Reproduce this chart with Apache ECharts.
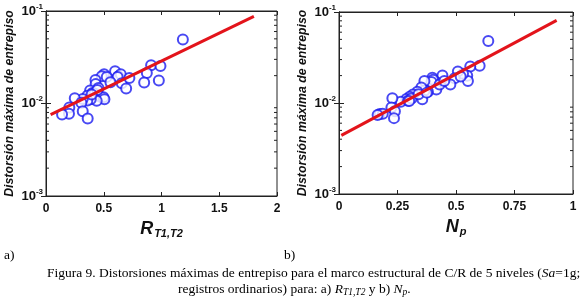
<!DOCTYPE html>
<html>
<head>
<meta charset="utf-8">
<script src="https://cdn.jsdelivr.net/npm/echarts@6/dist/echarts.min.js"></script>
<style>
  html, body { margin: 0; padding: 0; background: #fff; }
  #main { width: 580px; height: 299px; }
</style>
</head>
<body>
<div id="main"></div>
<script>
// a) R_T1,T2 vs max drift
var ratioA = [1.185, 0.910, 0.991, 0.873, 0.850, 0.977, 0.598, 0.627, 0.647, 0.620, 0.503, 0.483, 0.526, 0.558, 0.656, 0.722, 0.694, 0.428, 0.430, 0.454, 0.382, 0.402, 0.358, 0.419, 0.471, 0.497, 0.506, 0.439, 0.387, 0.358, 0.318, 0.249, 0.306, 0.318, 0.361, 0.202, 0.199, 0.139, 0.445, 0.395];
var driftA = [0.0491, 0.0259, 0.0255, 0.0214, 0.0169, 0.0177, 0.0223, 0.0197, 0.0207, 0.0193, 0.0207, 0.0197, 0.0194, 0.0170, 0.0166, 0.0189, 0.0145, 0.0179, 0.0162, 0.0147, 0.0138, 0.0130, 0.0121, 0.0128, 0.0118, 0.0117, 0.0111, 0.0107, 0.0111, 0.0108, 0.0112, 0.0114, 0.0102, 0.00826, 0.00689, 0.00906, 0.00775, 0.00761, 0.0140, 0.0125];
var fitAx = [0.04, 1.8];
var fitAy = [0.0076, 0.0876];

// b) Np vs max drift
var npB = [0.638, 0.601, 0.561, 0.548, 0.551, 0.530, 0.508, 0.494, 0.476, 0.442, 0.417, 0.399, 0.402, 0.395, 0.365, 0.416, 0.380, 0.366, 0.352, 0.335, 0.316, 0.356, 0.302, 0.288, 0.264, 0.295, 0.228, 0.224, 0.239, 0.235, 0.174, 0.187, 0.165, 0.310, 0.340, 0.430, 0.375, 0.450, 0.520, 0.300];
var driftB = [0.0481, 0.0256, 0.0252, 0.0199, 0.0174, 0.0209, 0.0222, 0.0187, 0.0160, 0.0200, 0.0169, 0.0190, 0.0180, 0.0170, 0.0175, 0.0141, 0.0133, 0.0137, 0.0148, 0.0133, 0.0124, 0.0110, 0.0117, 0.0111, 0.0103, 0.0106, 0.0113, 0.00893, 0.00813, 0.00682, 0.00755, 0.00760, 0.00740, 0.0112, 0.0125, 0.0160, 0.0130, 0.0175, 0.0195, 0.0105];
var fitBx = [0.01, 0.93];
var fitBy = [0.0044, 0.081];

var minorVals = [];
[0.001, 0.01].forEach(function (d) {
  for (var k = 2; k <= 9; k++) minorVals.push(+(d * k).toPrecision(3));
});

function zip(xs, ys) {
  return xs.map(function (x, i) { return [x, ys[i]]; });
}

var tickFont = { color: '#111', fontFamily: 'Liberation Sans, Arial', fontWeight: 'bold', fontSize: 12 };
var ylabelRich = {
  b: { fontFamily: 'Liberation Sans, Arial', fontWeight: 'bold', fontSize: 13, color: '#111' },
  s: { fontFamily: 'Liberation Sans, Arial', fontWeight: 'bold', fontSize: 8, color: '#111', padding: [0, 0, 9, 0] }
};
var nameRich = {
  m: { fontFamily: 'Liberation Sans, Arial', fontWeight: 'bold', fontStyle: 'italic', fontSize: 18, color: '#111' },
  sub: { fontFamily: 'Liberation Sans, Arial', fontWeight: 'bold', fontStyle: 'italic', fontSize: 11, color: '#111', padding: [10, 0, 0, 1] }
};

function xAxes(gridIndex, max, interval, name) {
  return [
    {
      gridIndex: gridIndex, type: 'value', min: 0, max: max, interval: interval,
      axisLine: { lineStyle: { color: '#222', width: 1 } },
      axisTick: { inside: true, length: 4, lineStyle: { color: '#222' } },
      axisLabel: Object.assign({ margin: 7 }, tickFont),
      splitLine: { show: false },
      name: name, nameLocation: 'middle', nameGap: 18,
      nameTextStyle: { rich: nameRich }
    },
    {
      gridIndex: gridIndex, type: 'value', position: 'top', min: 0, max: max, interval: interval,
      axisLine: { lineStyle: { color: '#222', width: 1 } },
      axisTick: { inside: true, length: 4, lineStyle: { color: '#222' } },
      axisLabel: { show: false }, splitLine: { show: false }
    }
  ];
}

function yAxes(gridIndex) {
  return [
    {
      gridIndex: gridIndex, type: 'log', logBase: 10, min: 0.001, max: 0.1,
      axisLine: { lineStyle: { color: '#222', width: 1 } },
      axisTick: { inside: true, length: 5, lineStyle: { color: '#222' } },
      axisLabel: {
        margin: 3,
        formatter: function (v) {
          return '{b|10}{s|' + Math.round(Math.log10(v)) + '}';
        },
        rich: ylabelRich
      },
      splitLine: { show: false },
      name: 'Distorsión máxima de entrepiso', nameLocation: 'middle', nameGap: 30,
      nameTextStyle: { fontFamily: 'Liberation Sans, Arial', fontWeight: 'bold', fontStyle: 'italic', fontSize: 12.3, color: '#111' }
    },
    {
      gridIndex: gridIndex, type: 'log', logBase: 10, min: 0.001, max: 0.1, position: 'right',
      axisLine: { lineStyle: { color: '#222', width: 1 } },
      axisTick: { inside: true, length: 5, lineStyle: { color: '#222' } },
      axisLabel: { show: false }, splitLine: { show: false }
    }
  ];
}

function minorTicks(xi, yi, xmin, xmax) {
  return {
    type: 'custom', xAxisIndex: xi, yAxisIndex: yi, silent: true, clip: false,
    data: minorVals.map(function (v) { return [xmin, v]; }),
    renderItem: function (params, api) {
      var v = api.value(1);
      var p = api.coord([xmin, v]);
      var q = api.coord([xmax, v]);
      var st = { stroke: '#222', lineWidth: 1 };
      return {
        type: 'group',
        children: [
          { type: 'line', shape: { x1: p[0], y1: p[1], x2: p[0] + 3, y2: p[1] }, style: st },
          { type: 'line', shape: { x1: q[0], y1: q[1], x2: q[0] - 3, y2: q[1] }, style: st }
        ]
      };
    }
  };
}

var blue = '#1c1cf0';
var red = '#e3141b';

var capN = { fontFamily: 'Liberation Serif, Times New Roman', fontSize: 13.5, color: '#111' };
var capI = Object.assign({}, capN, { fontStyle: 'italic' });
var capSub = Object.assign({}, capN, { fontStyle: 'italic', fontSize: 9.5, padding: [6, 0, 0, 0] });

var option = {
  animation: false,
  backgroundColor: '#fff',
  grid: [
    { left: 46, top: 11, width: 231, height: 185, show: true, borderColor: '#222', borderWidth: 1 },
    { left: 339, top: 12, width: 234, height: 182, show: true, borderColor: '#222', borderWidth: 1 }
  ],
  xAxis: xAxes(0, 2, 0.5, '{m|R}{sub|T1,T2}').concat(xAxes(1, 1, 0.25, '{m|N}{sub|p}')),
  yAxis: yAxes(0).concat(yAxes(1)),
  series: [
    minorTicks(0, 0, 0, 2),
    minorTicks(2, 2, 0, 1),
    {
      type: 'scatter', xAxisIndex: 0, yAxisIndex: 0,
      symbol: 'emptyCircle', symbolSize: 10,
      itemStyle: { color: blue, borderColor: blue, borderWidth: 1.1 },
      data: zip(ratioA, driftA)
    },
    {
      type: 'line', xAxisIndex: 0, yAxisIndex: 0, symbol: 'none',
      lineStyle: { color: red, width: 3 },
      data: zip(fitAx, fitAy), z: 3
    },
    {
      type: 'scatter', xAxisIndex: 2, yAxisIndex: 2,
      symbol: 'emptyCircle', symbolSize: 10,
      itemStyle: { color: blue, borderColor: blue, borderWidth: 1.1 },
      data: zip(npB, driftB)
    },
    {
      type: 'line', xAxisIndex: 2, yAxisIndex: 2, symbol: 'none',
      lineStyle: { color: red, width: 3 },
      data: zip(fitBx, fitBy), z: 3
    }
  ],
  graphic: [
    { type: 'text', left: 4, top: 248, style: Object.assign({ text: 'a)' }, capN) },
    { type: 'text', left: 284, top: 248, style: Object.assign({ text: 'b)' }, capN) },
    {
      type: 'text', left: 47, top: 266,
      style: {
        text: '{n|Figura 9. Distorsiones máximas de entrepiso para el marco estructural de C/R de 5 niveles (}{i|Sa}{n|=1g;}',
        rich: { n: capN, i: capI }
      }
    },
    {
      type: 'text', left: 178, top: 282,
      style: {
        text: '{n|registros ordinarios) para: a) }{i|R}{s|T1,T2}{n| y b) }{i|N}{s|p}{n|.}',
        rich: { n: capN, i: capI, s: capSub }
      }
    }
  ]
};

var chart = echarts.init(document.getElementById('main'));
chart.setOption(option);
</script>
</body>
</html>
